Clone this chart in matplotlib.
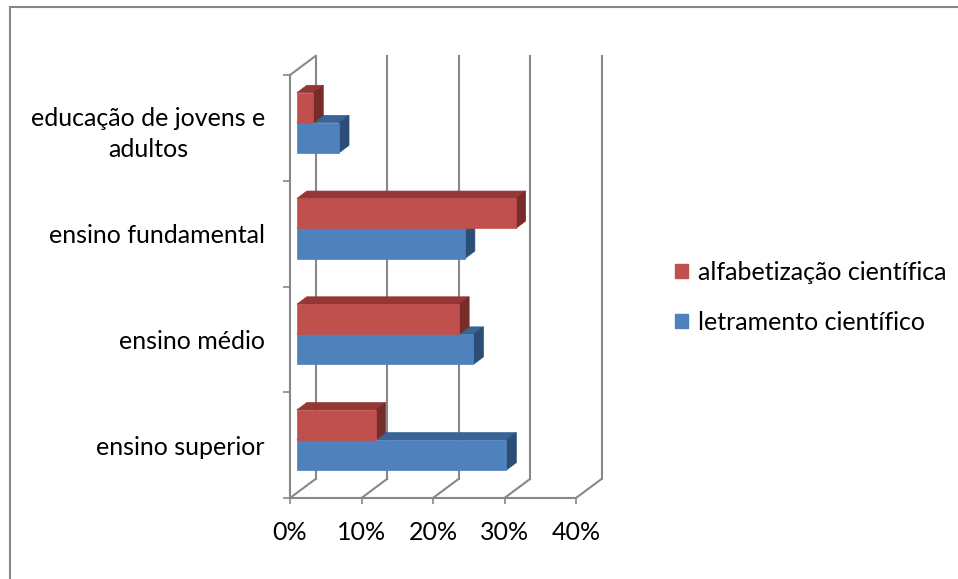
import matplotlib
matplotlib.use("Agg")
import matplotlib.pyplot as plt
from matplotlib.patches import Polygon, Rectangle, Patch
from matplotlib.ticker import FuncFormatter, FixedLocator

plt.rcParams['font.family'] = ['Lato', 'DejaVu Sans']

categories = ["ensino superior", "ensino médio", "ensino fundamental",
              "educação de jovens e\nadultos"]
letramento = [0.293, 0.247, 0.235, 0.059]
alfabetizacao = [0.110, 0.227, 0.306, 0.023]
series_names = ["alfabetização científica", "letramento científico"]
xticks = [0.0, 0.1, 0.2, 0.3, 0.4]

RED = "#C0504D"; RED_TOP = "#953735"; RED_SIDE = "#772C2A"
BLUE = "#4F81BD"; BLUE_TOP = "#3A6495"; BLUE_SIDE = "#2C4D75"
GRID = "#888888"
FS = 18

W, H = 958, 579
fig = plt.figure(figsize=(W / 100, H / 100), dpi=100)
ax = fig.add_axes([290 / W, 81 / H, 286 / W, 423 / H])
ax.set_xlim(0, 0.4)
ax.set_ylim(0, 4)
for s in ax.spines.values():
    s.set_visible(False)

# oblique depth offsets (data units per unit depth)
DX = 25.5 / 715
DY = 19 / 105.75

def P(x, y, d):
    return (x + d * DX, y + d * DY)

lw = 1.5
# back wall gridlines
for t in xticks:
    x0, y0 = P(t, 0, 1)
    x1, y1 = P(t, 4, 1)
    ax.plot([x0, x1], [y0, y1], color=GRID, lw=lw, clip_on=False, zorder=1)
    # floor diagonals
    xa, ya = P(t, 0, 0)
    ax.plot([xa, x0], [ya, y0], color=GRID, lw=lw, clip_on=False, zorder=1)
# front floor line and left wall front line
ax.plot([0, 0.4], [0, 0], color=GRID, lw=lw, clip_on=False, zorder=1)
ax.plot([0, 0], [0, 4], color=GRID, lw=lw, clip_on=False, zorder=1)
xt, yt = P(0, 4, 1)
ax.plot([0, xt], [4, yt], color=GRID, lw=lw, clip_on=False, zorder=1)

# bars
d0, d1 = 0.27, 0.66
half = 0.284

def bar3d(v, yb, ytop, front, top, side, z):
    pts_front = [P(0, yb, d0), P(v, yb, d0), P(v, ytop, d0), P(0, ytop, d0)]
    pts_top = [P(0, ytop, d0), P(v, ytop, d0), P(v, ytop, d1), P(0, ytop, d1)]
    pts_side = [P(v, yb, d0), P(v, yb, d1), P(v, ytop, d1), P(v, ytop, d0)]
    for pts, c in ((pts_top, top), (pts_side, side), (pts_front, front)):
        ax.add_patch(Polygon(pts, closed=True, facecolor=c, edgecolor=c,
                             lw=0.5, clip_on=False, zorder=z))

for i in range(len(categories)):
    c = i + 0.5
    bar3d(letramento[i], c - half, c, BLUE, BLUE_TOP, BLUE_SIDE, 3 + 2 * i)
    bar3d(alfabetizacao[i], c, c + half, RED, RED_TOP, RED_SIDE, 4 + 2 * i)

# axes ticks
ax.xaxis.set_major_locator(FixedLocator(xticks))
ax.xaxis.set_major_formatter(FuncFormatter(lambda v, p: f"{v * 100:.0f}%"))
ax.tick_params(axis='x', direction='out', length=4.5, width=1.2, color=GRID,
               labelsize=FS, pad=12, labelcolor='black')
ax.yaxis.set_major_locator(FixedLocator([0, 1, 2, 3, 4]))
ax.yaxis.set_major_formatter(FuncFormatter(lambda v, p: ""))
ax.yaxis.set_minor_locator(FixedLocator([i + 0.5 for i in range(len(categories))]))
ax.set_yticklabels(categories, minor=True)
ax.tick_params(axis='y', which='major', direction='out', length=5, width=1.2, color=GRID)
ax.tick_params(axis='y', which='minor', length=0, labelsize=FS, pad=18)
for lab in ax.get_yticklabels(minor=True):
    lab.set_multialignment('center')
    lab.set_linespacing(1.45)

# legend
handles = [Patch(facecolor=RED, edgecolor=RED), Patch(facecolor=BLUE, edgecolor=BLUE)]
fig.legend(handles, series_names, loc='upper left',
           bbox_to_anchor=(675 / W, 1 - 261 / H), frameon=False, fontsize=FS,
           handlelength=0.5, handleheight=0.5, handletextpad=0.4,
           labelspacing=1.07, borderpad=0, borderaxespad=0)

# chart frame
fig.patches.append(Rectangle((10 / W, -0.1), 2, 1.1 - 7 / H, transform=fig.transFigure,
                             fill=False, edgecolor=GRID, lw=1.5))

fig.savefig("out.png", dpi=100)
